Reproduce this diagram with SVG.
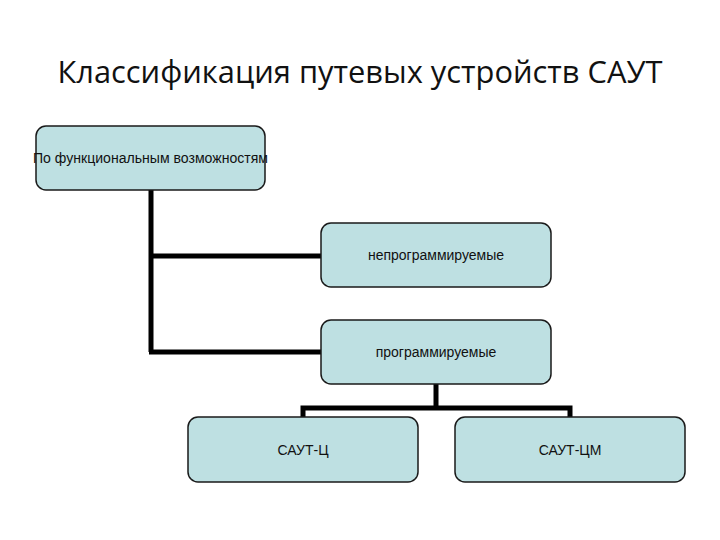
<svg xmlns="http://www.w3.org/2000/svg" width="720" height="540" viewBox="0 0 720 540">
<style>
.box{fill:#BEE0E2;stroke:#1a1a1a;stroke-width:1.5}
.lbl{font-family:"Liberation Sans",Arial,sans-serif;font-size:14px;fill:#111;text-anchor:middle}
.con{fill:none;stroke:#000;stroke-width:5}
</style>
<rect width="720" height="540" fill="#fff"/>
<text x="360" y="83" font-family="'Open Sans','Liberation Sans',sans-serif" font-size="31" fill="#111" text-anchor="middle" textLength="605" lengthAdjust="spacingAndGlyphs">Классификация путевых устройств САУТ</text>
<g id="connectors">
<path class="con" d="M151 190 V352 M151 256 H321 M149 352 H321"/>
<path class="con" d="M436 384 V408 M303 417 V408 H570 V417"/>
</g>
<g id="n1"><rect class="box" x="36" y="126" width="229" height="64" rx="10"/><text class="lbl" x="150.5" y="163" textLength="235" lengthAdjust="spacingAndGlyphs">По функциональным возможностям</text></g>
<g id="n2"><rect class="box" x="321" y="223" width="230" height="64" rx="10"/><text class="lbl" x="436" y="260">непрограммируемые</text></g>
<g id="n3"><rect class="box" x="321" y="320" width="230" height="64" rx="10"/><text class="lbl" x="436" y="357">программируемые</text></g>
<g id="n4"><rect class="box" x="188" y="417" width="230" height="65" rx="10"/><text class="lbl" x="303" y="455">САУТ-Ц</text></g>
<g id="n5"><rect class="box" x="455" y="417" width="230" height="65" rx="10"/><text class="lbl" x="570" y="455">САУТ-ЦМ</text></g>
</svg>
